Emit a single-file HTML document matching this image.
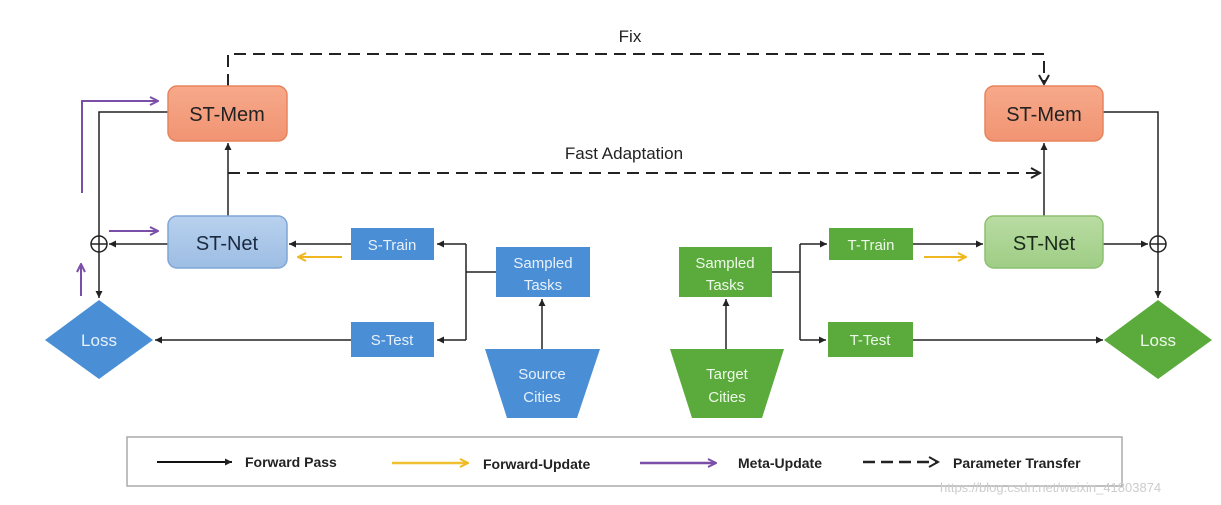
<!DOCTYPE html>
<html><head><meta charset="utf-8"><style>
html,body{margin:0;padding:0;background:#fff;}
svg{display:block;font-family:"Liberation Sans",sans-serif;}
</style></head><body>
<svg width="1221" height="505" viewBox="0 0 1221 505" xmlns="http://www.w3.org/2000/svg">
<defs>
<marker id="ab" markerWidth="8" markerHeight="8" refX="7" refY="4" orient="auto" markerUnits="userSpaceOnUse"><path d="M0,0.5 L7,4 L0,7.5 z" fill="#222"/></marker>
<marker id="ap" markerWidth="10" markerHeight="10" refX="9" refY="5" orient="auto" markerUnits="userSpaceOnUse"><path d="M1,1 L9,5 L1,9" fill="none" stroke="#7b4fa8" stroke-width="2"/></marker>
<marker id="ay" markerWidth="10" markerHeight="10" refX="9" refY="5" orient="auto" markerUnits="userSpaceOnUse"><path d="M1,1 L9,5 L1,9" fill="none" stroke="#f0b820" stroke-width="2"/></marker>
<marker id="ad" markerWidth="12" markerHeight="12" refX="10" refY="6" orient="auto" markerUnits="userSpaceOnUse"><path d="M1,1 L10,6 L1,11" fill="none" stroke="#222" stroke-width="2"/></marker>
<linearGradient id="gor" x1="0" y1="0" x2="0" y2="1"><stop offset="0" stop-color="#f6a98a"/><stop offset="1" stop-color="#f19473"/></linearGradient>
<linearGradient id="gbl" x1="0" y1="0" x2="0" y2="1"><stop offset="0" stop-color="#b8d1ee"/><stop offset="1" stop-color="#9dbde3"/></linearGradient>
<linearGradient id="ggr" x1="0" y1="0" x2="0" y2="1"><stop offset="0" stop-color="#b9dca3"/><stop offset="1" stop-color="#9fcd85"/></linearGradient>
</defs>

<!-- Fix dashed -->
<path d="M228,86 V54 H1044 V84" fill="none" stroke="#222" stroke-width="2" stroke-dasharray="12,7" marker-end="url(#ad)"/>
<text x="630" y="42" font-size="17" text-anchor="middle" fill="#222">Fix</text>
<!-- Fast adaptation -->
<path d="M228,173 H1040" fill="none" stroke="#222" stroke-width="2" stroke-dasharray="12,7" marker-end="url(#ad)"/>
<text x="624" y="159" font-size="17" text-anchor="middle" fill="#222">Fast Adaptation</text>

<!-- Left connectors -->
<path d="M228,216 V143" stroke="#222" stroke-width="1.5" marker-end="url(#ab)"/>
<path d="M168,112 H99 V298" fill="none" stroke="#222" stroke-width="1.5" marker-end="url(#ab)"/>
<path d="M168,244 H109" stroke="#222" stroke-width="1.5" marker-end="url(#ab)"/>
<circle cx="99" cy="244" r="8" fill="none" stroke="#222" stroke-width="1.5"/>
<path d="M91,244 H107" stroke="#222" stroke-width="1.5"/>
<path d="M351,244 H289" stroke="#222" stroke-width="1.5" marker-end="url(#ab)"/>
<path d="M351,340 H155" stroke="#222" stroke-width="1.5" marker-end="url(#ab)"/>
<path d="M496,272 H466 M466,244 V340" stroke="#222" stroke-width="1.5" fill="none"/>
<path d="M466,244 H437" stroke="#222" stroke-width="1.5" marker-end="url(#ab)"/>
<path d="M466,340 H437" stroke="#222" stroke-width="1.5" marker-end="url(#ab)"/>
<path d="M542,349 V299" stroke="#222" stroke-width="1.5" marker-end="url(#ab)"/>
<!-- purple -->
<path d="M82,193 V101 H158" fill="none" stroke="#7b4fa8" stroke-width="2" marker-end="url(#ap)"/>
<path d="M109,231 H158" stroke="#7b4fa8" stroke-width="2" marker-end="url(#ap)"/>
<path d="M81,296 V264" stroke="#7b4fa8" stroke-width="2" marker-end="url(#ap)"/>
<!-- yellow -->
<path d="M342,257 H298" stroke="#f0b820" stroke-width="2" marker-end="url(#ay)"/>

<!-- Right connectors -->
<path d="M1044,216 V143" stroke="#222" stroke-width="1.5" marker-end="url(#ab)"/>
<path d="M1103,112 H1158 V298" fill="none" stroke="#222" stroke-width="1.5" marker-end="url(#ab)"/>
<path d="M1103,244 H1148" stroke="#222" stroke-width="1.5" marker-end="url(#ab)"/>
<circle cx="1158" cy="244" r="8" fill="none" stroke="#222" stroke-width="1.5"/>
<path d="M1150,244 H1166" stroke="#222" stroke-width="1.5"/>
<path d="M913,244 H983" stroke="#222" stroke-width="1.5" marker-end="url(#ab)"/>
<path d="M913,340 H1103" stroke="#222" stroke-width="1.5" marker-end="url(#ab)"/>
<path d="M772,272 H800 M800,244 V340" stroke="#222" stroke-width="1.5" fill="none"/>
<path d="M800,244 H827" stroke="#222" stroke-width="1.5" marker-end="url(#ab)"/>
<path d="M800,340 H826" stroke="#222" stroke-width="1.5" marker-end="url(#ab)"/>
<path d="M726,349 V299" stroke="#222" stroke-width="1.5" marker-end="url(#ab)"/>
<path d="M924,257 H966" stroke="#f0b820" stroke-width="2" marker-end="url(#ay)"/>

<!-- Nodes left -->
<rect x="168" y="86" width="119" height="55" rx="9" fill="url(#gor)" stroke="#e8845e" stroke-width="1.5"/>
<text x="227" y="121" font-size="20" text-anchor="middle" fill="#222">ST-Mem</text>
<rect x="168" y="216" width="119" height="52" rx="9" fill="url(#gbl)" stroke="#7fa6d6" stroke-width="1.5"/>
<text x="227" y="250" font-size="20" text-anchor="middle" fill="#1a2a40">ST-Net</text>
<rect x="351" y="228" width="83" height="32" fill="#4a8fd6"/>
<text x="392" y="250" font-size="15" text-anchor="middle" fill="#e8f0fa">S-Train</text>
<rect x="351" y="322" width="83" height="35" fill="#4a8fd6"/>
<text x="392" y="345" font-size="15" text-anchor="middle" fill="#e8f0fa">S-Test</text>
<rect x="496" y="247" width="94" height="50" fill="#4a8fd6"/>
<text x="543" y="268" font-size="15" text-anchor="middle" fill="#e8f0fa">Sampled</text>
<text x="543" y="290" font-size="15" text-anchor="middle" fill="#e8f0fa">Tasks</text>
<polygon points="485,349 600,349 577,418 507,418" fill="#4a8fd6"/>
<text x="542" y="379" font-size="15" text-anchor="middle" fill="#e8f0fa">Source</text>
<text x="542" y="402" font-size="15" text-anchor="middle" fill="#e8f0fa">Cities</text>
<polygon points="99,300 153,340 99,379 45,340" fill="#4a8fd6"/>
<text x="99" y="346" font-size="17" text-anchor="middle" fill="#e8f0fa">Loss</text>

<!-- Nodes right -->
<rect x="985" y="86" width="118" height="55" rx="9" fill="url(#gor)" stroke="#e8845e" stroke-width="1.5"/>
<text x="1044" y="121" font-size="20" text-anchor="middle" fill="#222">ST-Mem</text>
<rect x="985" y="216" width="118" height="52" rx="9" fill="url(#ggr)" stroke="#8cc170" stroke-width="1.5"/>
<text x="1044" y="250" font-size="20" text-anchor="middle" fill="#1a2a1a">ST-Net</text>
<rect x="829" y="228" width="84" height="32" fill="#5aab3c"/>
<text x="871" y="250" font-size="15" text-anchor="middle" fill="#eef8ea">T-Train</text>
<rect x="828" y="322" width="85" height="35" fill="#5aab3c"/>
<text x="870" y="345" font-size="15" text-anchor="middle" fill="#eef8ea">T-Test</text>
<rect x="679" y="247" width="93" height="50" fill="#5aab3c"/>
<text x="725" y="268" font-size="15" text-anchor="middle" fill="#eef8ea">Sampled</text>
<text x="725" y="290" font-size="15" text-anchor="middle" fill="#eef8ea">Tasks</text>
<polygon points="670,349 784,349 762,418 692,418" fill="#5aab3c"/>
<text x="727" y="379" font-size="15" text-anchor="middle" fill="#eef8ea">Target</text>
<text x="727" y="402" font-size="15" text-anchor="middle" fill="#eef8ea">Cities</text>
<polygon points="1158,300 1212,340 1158,379 1104,340" fill="#5aab3c"/>
<text x="1158" y="346" font-size="17" text-anchor="middle" fill="#eef8ea">Loss</text>

<!-- Legend -->
<rect x="127" y="437" width="995" height="49" fill="#fff" stroke="#aaa" stroke-width="1.5"/>
<path d="M157,462 H232" stroke="#111" stroke-width="2" marker-end="url(#ab)"/>
<text x="245" y="467" font-size="14" font-weight="bold" fill="#222">Forward Pass</text>
<path d="M392,463 H468" stroke="#f0c030" stroke-width="2.5" marker-end="url(#ay)"/>
<text x="483" y="469" font-size="14" font-weight="bold" fill="#222">Forward-Update</text>
<path d="M640,463 H716" stroke="#7b4fa8" stroke-width="2.5" marker-end="url(#ap)"/>
<text x="738" y="468" font-size="14" font-weight="bold" fill="#222">Meta-Update</text>
<path d="M863,462 H938" stroke="#222" stroke-width="2.5" stroke-dasharray="12,6" marker-end="url(#ad)"/>
<text x="953" y="468" font-size="14" font-weight="bold" fill="#222">Parameter Transfer</text>
<text x="940" y="492" font-size="13" fill="#ccc">https://blog.csdn.net/weixin_41803874</text>
</svg>
</body></html>
